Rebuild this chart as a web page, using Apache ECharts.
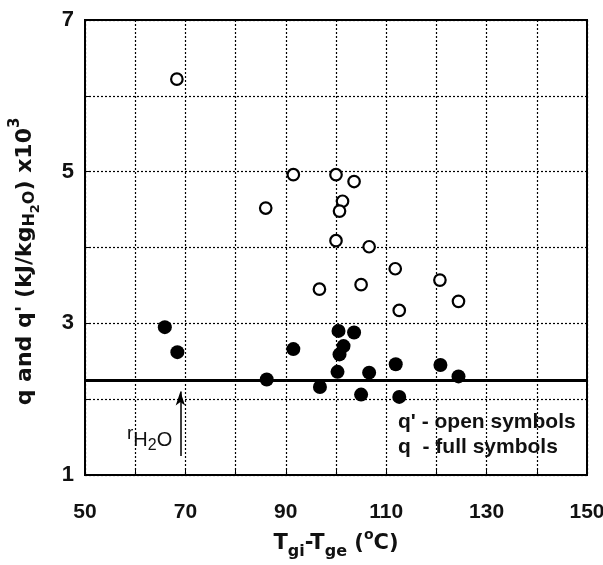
<!DOCTYPE html>
<html>
<head>
<meta charset="utf-8">
<script src="https://cdn.jsdelivr.net/npm/echarts@6/dist/echarts.min.js"></script>
<style>
  html, body { margin: 0; padding: 0; background: #fff; }
  #chart { width: 603px; height: 565px; }
</style>
</head>
<body>
<div id="chart"></div>
<script>
// open symbols: q'
var openX = [68.3, 91.5, 86.0, 100.0, 103.6, 101.3, 100.7, 100.0, 106.6, 96.7, 111.8, 105.0, 120.7, 124.4, 112.6];
var openY = [6.22, 4.96, 4.52, 4.96, 4.87, 4.61, 4.48, 4.09, 4.01, 3.45, 3.72, 3.51, 3.57, 3.29, 3.17];
// full symbols: q
var fullX = [65.9, 68.4, 91.5, 86.2, 96.8, 100.5, 103.6, 101.5, 100.7, 100.3, 106.6, 105.0, 111.9, 120.8, 124.4, 112.6];
var fullY = [2.95, 2.62, 2.66, 2.26, 2.16, 2.90, 2.88, 2.70, 2.59, 2.36, 2.35, 2.06, 2.46, 2.45, 2.30, 2.03];
// r_H2O level and arrow
var rH2O = 2.25;
var arrowX = 69;
var arrowY = [1.25, 2.1];

var openData = [];
for (let i = 0; i < openX.length; i++) {
    openData.push([openX[i], openY[i]]);
}
var fullData = [];
for (let i = 0; i < fullX.length; i++) {
    fullData.push([fullX[i], fullY[i]]);
}

var font = 'Liberation Sans';
var wide = 'DejaVu Sans';
var chart = echarts.init(document.getElementById('chart'));

var option = {
    animation: false,
    textStyle: { fontFamily: font },
    grid: {
        left: 85, right: 16, top: 20, bottom: 90,
        outerBoundsMode: 'none',
        containLabel: false,
        show: true, borderColor: '#000', borderWidth: 2
    },
    xAxis: {
        type: 'value',
        min: 50, max: 150, interval: 10,
        axisLine: { show: false },
        axisTick: { show: true, inside: true, length: 5, lineStyle: { color: '#000' } },
        axisLabel: {
            margin: 27,
            color: '#111', fontSize: 21, fontWeight: 'bold', fontFamily: font,
            formatter: function (v) { return (v - 50) % 20 === 0 ? v : ''; }
        },
        splitLine: { show: true, lineStyle: { color: '#000', type: [2, 2], width: 1.2 } },
        name: '{a|T}{s|gi}{a|-T}{s|ge}{a| (}{p|o}{a|C)}',
        nameLocation: 'middle',
        nameGap: 51,
        nameTextStyle: {
            color: '#111', fontFamily: wide, fontWeight: 'bold',
            rich: {
                a: { fontSize: 21, fontWeight: 'bold', lineHeight: 32, fontFamily: wide, color: '#111' },
                s: { fontSize: 16, fontWeight: 'bold', lineHeight: 16, verticalAlign: 'bottom', fontFamily: wide, color: '#111' },
                p: { fontSize: 14, fontWeight: 'bold', lineHeight: 14, verticalAlign: 'top', fontFamily: wide, color: '#111' }
            }
        }
    },
    yAxis: {
        type: 'value',
        min: 1, max: 7, interval: 1,
        axisLine: { show: false },
        axisTick: { show: true, inside: true, length: 5, lineStyle: { color: '#000' } },
        axisLabel: {
            margin: 11,
            color: '#111', fontSize: 22, fontWeight: 'bold', fontFamily: font,
            formatter: function (v) { return v % 2 === 1 ? v : ''; }
        },
        splitLine: { show: true, lineStyle: { color: '#000', type: [2, 2], width: 1.2 } },
        name: '{a|q and q\' (kJ/kg}{s|H}{ss|2}{s|O}{a|) x10}{p|3}',
        nameLocation: 'middle',
        nameRotate: 90,
        nameGap: 43,
        nameTextStyle: {
            color: '#111', fontFamily: wide, fontWeight: 'bold',
            padding: [0, 28, 0, 0],
            rich: {
                a: { fontSize: 22, fontWeight: 'bold', lineHeight: 34, fontFamily: wide, color: '#111' },
                s: { fontSize: 16, fontWeight: 'bold', lineHeight: 16, verticalAlign: 'bottom', padding: [0, 0, 4, 0], fontFamily: wide, color: '#111' },
                ss: { fontSize: 13, fontWeight: 'bold', lineHeight: 13, verticalAlign: 'bottom', fontFamily: wide, color: '#111' },
                p: { fontSize: 15, fontWeight: 'bold', lineHeight: 15, verticalAlign: 'top', fontFamily: wide, color: '#111' }
            }
        }
    },
    series: [
        {
            name: 'q',
            type: 'scatter',
            symbol: 'circle',
            symbolSize: 14,
            itemStyle: { color: '#000', opacity: 1 },
            data: fullData,
            z: 4,
            markLine: {
                silent: true,
                symbol: 'none',
                label: { show: false },
                lineStyle: { color: '#000', width: 3, type: 'solid' },
                data: [{ yAxis: rH2O }]
            }
        },
        {
            name: "q'",
            type: 'scatter',
            symbol: 'circle',
            symbolSize: 11.5,
            itemStyle: { color: '#fff', borderColor: '#000', borderWidth: 2.2, opacity: 1 },
            data: openData,
            z: 5,
            markLine: {
                silent: true,
                label: { show: false },
                lineStyle: { color: '#000', width: 1.5, type: 'solid' },
                data: [[
                    { coord: [arrowX, arrowY[0]], symbol: 'none' },
                    { coord: [arrowX, arrowY[1]], symbol: 'arrow', symbolSize: [7, 14] }
                ]]
            }
        }
    ],
    graphic: [
        {
            type: 'text',
            left: 127, top: 424,
            style: {
                text: '{r|r}{s|H}{ss|2}{s|O}',
                rich: {
                    r: { fontSize: 19, fontFamily: font, fill: '#111', lineHeight: 30, verticalAlign: 'top' },
                    s: { fontSize: 20, fontFamily: font, fill: '#111', lineHeight: 20, verticalAlign: 'bottom', padding: [0, 0, 4, 0] },
                    ss: { fontSize: 16, fontFamily: font, fill: '#111', lineHeight: 16, verticalAlign: 'bottom' }
                }
            }
        },
        {
            type: 'text',
            left: 398, top: 410,
            style: {
                text: "q' - open symbols\nq  - full symbols",
                font: 'bold 21px "Liberation Sans"',
                lineHeight: 25,
                fill: '#111'
            }
        }
    ]
};

option && chart.setOption(option);
window.addEventListener('resize', chart.resize);
</script>
</body>
</html>
